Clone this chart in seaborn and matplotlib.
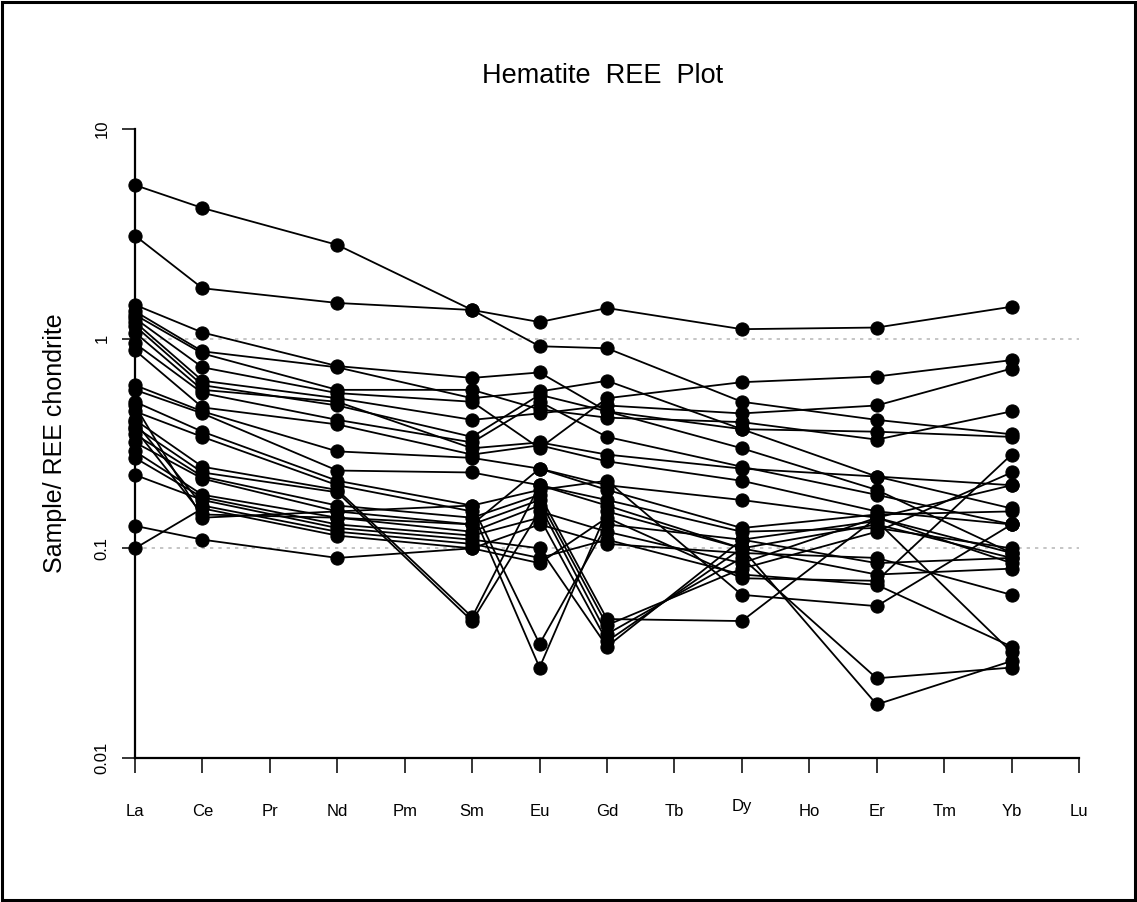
import numpy as np
import pandas as pd
import matplotlib
matplotlib.use("Agg")
import matplotlib.pyplot as plt
import matplotlib.transforms as mtransforms
import seaborn as sns
from matplotlib.patches import Rectangle

elements = ["La", "Ce", "Pr", "Nd", "Pm", "Sm", "Eu", "Gd", "Tb", "Dy", "Ho", "Er", "Tm", "Yb", "Lu"]
measured = ["La", "Ce", "Nd", "Sm", "Eu", "Gd", "Dy", "Er", "Yb"]

s1 = [5.4, 4.2, 2.8, 1.37, 0.92, 0.90, 0.50, 0.41, 0.35]
s2 = [3.1, 1.74, 1.48, 1.37, 1.20, 1.40, 1.11, 1.13, 1.42]
s3 = [1.45, 1.07, 0.74, 0.65, 0.69, 0.45, 0.30, 0.19, 0.095]
s4 = [1.35, 0.87, 0.73, 0.52, 0.56, 0.63, 0.37, 0.36, 0.34]
s5 = [1.30, 0.85, 0.57, 0.57, 0.46, 0.42, 0.40, 0.33, 0.45]
s6 = [1.25, 0.73, 0.55, 0.50, 0.30, 0.52, 0.62, 0.66, 0.79]
s7 = [1.20, 0.63, 0.52, 0.41, 0.44, 0.48, 0.44, 0.48, 0.72]
s8 = [1.15, 0.60, 0.48, 0.34, 0.54, 0.45, 0.37, 0.22, 0.20]
s9 = [1.07, 0.57, 0.50, 0.30, 0.32, 0.28, 0.24, 0.22, 0.155]
s10 = [0.95, 0.55, 0.41, 0.32, 0.50, 0.34, 0.245, 0.18, 0.13]
s11 = [0.88, 0.47, 0.39, 0.28, 0.31, 0.26, 0.21, 0.15, 0.13]
s12 = [0.60, 0.45, 0.29, 0.27, 0.24, 0.20, 0.17, 0.14, 0.085]
s13 = [0.57, 0.44, 0.235, 0.23, 0.20, 0.17, 0.12, 0.125, 0.10]
s14 = [0.50, 0.36, 0.21, 0.16, 0.035, 0.13, 0.11, 0.085, 0.09]
s15 = [0.45, 0.34, 0.20, 0.15, 0.027, 0.15, 0.10, 0.075, 0.08]
s16 = [0.41, 0.245, 0.19, 0.047, 0.20, 0.16, 0.10, 0.13, 0.09]
s17 = [0.38, 0.23, 0.185, 0.045, 0.15, 0.12, 0.085, 0.14, 0.095]
s18 = [0.35, 0.22, 0.16, 0.14, 0.18, 0.046, 0.045, 0.14, 0.20]
s19 = [0.32, 0.215, 0.15, 0.13, 0.17, 0.043, 0.08, 0.12, 0.23]
s20 = [0.29, 0.18, 0.14, 0.12, 0.16, 0.039, 0.09, 0.024, 0.027]
s21 = [0.27, 0.175, 0.13, 0.115, 0.14, 0.036, 0.10, 0.018, 0.029]
s22 = [0.224, 0.17, 0.125, 0.11, 0.10, 0.034, 0.11, 0.135, 0.032]
s23 = [0.40, 0.16, 0.12, 0.105, 0.09, 0.11, 0.075, 0.067, 0.034]
s24 = [0.128, 0.11, 0.09, 0.10, 0.13, 0.105, 0.095, 0.09, 0.06]
s25 = [0.10, 0.155, 0.115, 0.10, 0.085, 0.14, 0.072, 0.07, 0.28]
s26 = [0.37, 0.145, 0.14, 0.13, 0.24, 0.19, 0.125, 0.145, 0.15]
s27 = [0.48, 0.14, 0.15, 0.16, 0.19, 0.21, 0.06, 0.053, 0.13]

samples = [s1, s2, s3, s4, s5, s6, s7, s8, s9, s10, s11, s12, s13, s14,
           s15, s16, s17, s18, s19, s20, s21, s22, s23, s24, s25, s26, s27]

y_ticks = [0.01, 0.1, 1, 10]
y_tick_labels = ["0.01", "0.1", "1", "10"]

rows = []
for i, s in enumerate(samples):
    for el, v in zip(measured, s):
        rows.append({"sample": f"S{i+1}", "pos": elements.index(el), "value": v})
df = pd.DataFrame(rows)

sns.set_style("ticks")
plt.rcParams["font.family"] = ["Liberation Sans", "DejaVu Sans"]
plt.rcParams["text.color"] = "black"
plt.rcParams["xtick.color"] = "black"
plt.rcParams["ytick.color"] = "black"

fig = plt.figure(figsize=(11.37, 9.02), dpi=100)
ax = fig.add_axes([135 / 1137, 1 - 758 / 902, (1079 - 135) / 1137, (758 - 129) / 902])

for v in [0.1, 1]:
    ax.axhline(v, color="#bbbbbb", linestyle=(0, (2, 3)), linewidth=1.2, zorder=0)

sns.lineplot(data=df, x="pos", y="value", units="sample", estimator=None,
             color="black", marker="o", markersize=9.5, markeredgecolor="black",
             linewidth=1.3, legend=False, ax=ax, clip_on=False, sort=True)

ax.set_yscale("log")
ax.set_ylim(0.01, 10)
ax.set_xlim(0, 14)
ax.set_yticks(y_ticks)
ax.set_yticklabels(y_tick_labels, rotation=90, va="center", fontsize=12)
ax.yaxis.set_minor_locator(matplotlib.ticker.NullLocator())
ax.set_xticks(range(len(elements)))
ax.set_xticklabels(elements, fontsize=12)
ax.tick_params(axis="x", bottom=True, direction="out", length=11, width=1.1, pad=22,
               colors="black", labelcolor="black")
ax.tick_params(axis="y", left=True, direction="out", length=9.5, width=1.1, pad=9,
               colors="black", labelcolor="black")
ax.set_xlabel("")
ax.set_ylabel("")
for side in ["top", "right"]:
    ax.spines[side].set_visible(False)
for side in ["left", "bottom"]:
    ax.spines[side].set_color("black")
    ax.spines[side].set_linewidth(1.6)
ax.set_facecolor("white")

# "Dy" sits a few pixels higher in the original
for lab in ax.get_xticklabels():
    if lab.get_text() == "Dy":
        lab.set_transform(lab.get_transform() +
                          mtransforms.ScaledTranslation(0, 5 / 100, fig.dpi_scale_trans))

fig.text(603 / 1137, 1 - 76 / 902, "Hematite  REE  Plot", ha="center", va="center",
         fontsize=19.5, color="black")
fig.text(55 / 1137, 1 - 443 / 902, "Sample/ REE chondrite", ha="center", va="center",
         rotation=90, fontsize=18, color="black")

fig.patches.append(Rectangle((0.002, 0.002), 0.996, 0.996, transform=fig.transFigure,
                             fill=False, edgecolor="black", linewidth=2.2))

fig.savefig("out.png", dpi=100, facecolor="white")
